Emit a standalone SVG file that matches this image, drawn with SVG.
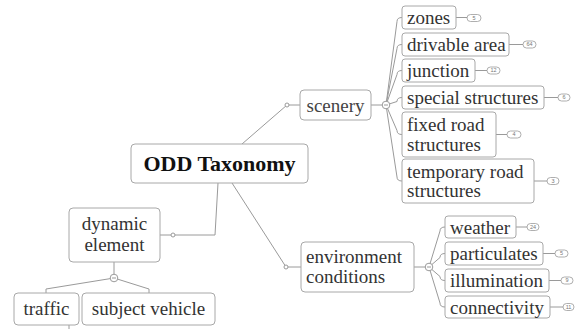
<svg xmlns="http://www.w3.org/2000/svg" width="582" height="329" viewBox="0 0 582 329">
<style>
.box{fill:#fff;stroke:#a8a8a8;stroke-width:1}
.t{font-family:"Liberation Serif","Times New Roman",serif;font-size:19px;fill:#333}
.c{text-anchor:middle}
.root{font-family:"Liberation Serif","Times New Roman",serif;font-size:22px;font-weight:bold;fill:#111;text-anchor:middle}
.ln{fill:none;stroke:#9a9a9a;stroke-width:1}
.dot{fill:#fff;stroke:#9a9a9a;stroke-width:1}
.bd{fill:#fff;stroke:#9a9a9a;stroke-width:0.8}
.bt{font-family:"Liberation Sans",Arial,sans-serif;font-size:5.5px;fill:#777;text-anchor:middle}
</style>
<g id="connectors">
<path class="ln" d="M242 144 L287 105 L300 105"/>
<path class="ln" d="M232 183 L286 267 L301 267"/>
<path class="ln" d="M218 183 L215 235 L160 235"/>
<path class="ln" d="M371 105 L386 105"/>
<path class="ln" d="M414 267 L429 267"/>
<path class="ln" d="M114 262 L114 278"/>
<path class="ln" d="M386 105 L397 21.5 Q397 17.5 402 17.5"/>
<path class="ln" d="M386 105 L397 48.5 Q397 44.5 402 44.5"/>
<path class="ln" d="M386 105 L397 74.5 Q397 70.5 402 70.5"/>
<path class="ln" d="M386 105 L397 101.5 Q397 97.5 402 97.5"/>
<path class="ln" d="M386 105 L397 130.5 Q397 134.5 402 134.5"/>
<path class="ln" d="M386 105 L397 177 Q397 181 402 181"/>
<path class="ln" d="M429 267 L440 231 Q440 227 445 227"/>
<path class="ln" d="M429 267 L440 257.5 Q440 253.5 445 253.5"/>
<path class="ln" d="M429 267 L440 276.5 Q440 280.5 445 280.5"/>
<path class="ln" d="M429 267 L440 303 Q440 307 445 307"/>
<path class="ln" d="M114 278 L46 289 L46 293"/>
<path class="ln" d="M114 278 L149 289 L149 293"/>
<path class="ln" d="M69 325 L69 329"/>
<path class="ln" d="M456 17.5 H467 M509 44.5 H523 M475 70.5 H487 M544 97.5 H558 M496 134.5 H507 M534 181 H547 M516 227 H527 M543 253.5 H555 M549 280.5 H561 M550 307 H563"/>
<circle class="dot" cx="287" cy="105" r="2"/>
<circle class="dot" cx="286" cy="267" r="2"/>
<circle class="dot" cx="173" cy="235" r="2"/>
<circle class="dot" cx="386" cy="105" r="3.8"/>
<path class="ln" d="M384 105 H388"/>
<circle class="dot" cx="429" cy="267" r="3.8"/>
<path class="ln" d="M427 267 H431"/>
<circle class="dot" cx="114" cy="278" r="3.8"/>
<path class="ln" d="M112 278 H116"/>
</g>
<g id="root"><rect class="box" x="131" y="144" width="177" height="39" rx="4"/><text class="root" x="219.5" y="171">ODD Taxonomy</text></g>
<g id="scenery"><rect class="box" x="300" y="90" width="71" height="30" rx="4"/><text class="t c" x="335.5" y="111.5" style="fill:#444">scenery</text></g>
<g id="environment"><rect class="box" x="301" y="242" width="113" height="50" rx="4"/><text class="t" x="306" y="263">environment</text><text class="t" x="306" y="283">conditions</text></g>
<g id="dynamic"><rect class="box" x="69" y="208" width="91" height="54" rx="4"/><text class="t c" x="114.5" y="230">dynamic</text><text class="t c" x="114.5" y="251">element</text></g>
<g id="traffic"><rect class="box" x="14" y="293" width="65" height="32" rx="4"/><text class="t c" x="46.5" y="315">traffic</text></g>
<g id="subject"><rect class="box" x="82" y="293" width="133" height="32" rx="4"/><text class="t c" x="148.5" y="315">subject vehicle</text></g>
<g id="zones"><rect class="box" x="402" y="6" width="54" height="23" rx="3"/><text class="t" x="407" y="24">zones</text><rect class="bd" x="467" y="14.5" width="14" height="7" rx="3.5"/><text class="bt" x="474" y="19.5">5</text></g>
<g id="drivable"><rect class="box" x="402" y="33" width="107" height="23" rx="3"/><text class="t" x="407" y="51">drivable area</text><rect class="bd" x="523" y="41" width="13" height="7" rx="3.5"/><text class="bt" x="529.5" y="46">64</text></g>
<g id="junction"><rect class="box" x="402" y="59" width="73" height="23" rx="3"/><text class="t" x="407" y="77">junction</text><rect class="bd" x="487" y="67" width="13" height="7" rx="3.5"/><text class="bt" x="493.5" y="72">12</text></g>
<g id="special"><rect class="box" x="402" y="86" width="142" height="23" rx="3"/><text class="t" x="407" y="104">special structures</text><rect class="bd" x="558" y="94" width="12" height="7" rx="3.5"/><text class="bt" x="564" y="99">6</text></g>
<g id="fixed"><rect class="box" x="402" y="112" width="94" height="45" rx="3"/><text class="t" x="407" y="131">fixed road</text><text class="t" x="407" y="151">structures</text><rect class="bd" x="507" y="131" width="14" height="7" rx="3.5"/><text class="bt" x="514" y="136">4</text></g>
<g id="temporary"><rect class="box" x="402" y="159" width="132" height="44" rx="3"/><text class="t" x="407" y="177.5">temporary road</text><text class="t" x="407" y="197">structures</text><rect class="bd" x="547" y="177.5" width="12" height="7" rx="3.5"/><text class="bt" x="553" y="182.5">3</text></g>
<g id="weather"><rect class="box" x="445" y="216" width="71" height="22" rx="3"/><text class="t" x="450" y="233.5">weather</text><rect class="bd" x="527" y="223.5" width="12" height="7" rx="3.5"/><text class="bt" x="533" y="228.5">24</text></g>
<g id="particulates"><rect class="box" x="445" y="242" width="98" height="23" rx="3"/><text class="t" x="450" y="260">particulates</text><rect class="bd" x="555" y="250" width="13" height="7" rx="3.5"/><text class="bt" x="561.5" y="255">5</text></g>
<g id="illumination"><rect class="box" x="445" y="269" width="104" height="23" rx="3"/><text class="t" x="450" y="287">illumination</text><rect class="bd" x="561" y="277" width="12" height="7" rx="3.5"/><text class="bt" x="567" y="282">9</text></g>
<g id="connectivity"><rect class="box" x="445" y="296" width="105" height="22" rx="3"/><text class="t" x="450" y="313.5">connectivity</text><rect class="bd" x="563" y="303.5" width="11" height="7" rx="3.5"/><text class="bt" x="568.5" y="308.5">11</text></g>
</svg>
